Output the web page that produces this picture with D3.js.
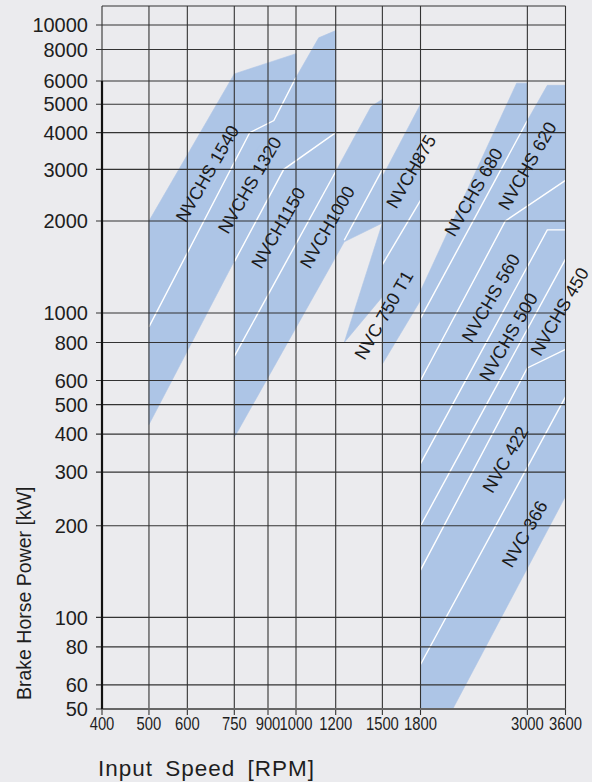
<!DOCTYPE html>
<html>
<head>
<meta charset="utf-8">
<script src="https://cdn.jsdelivr.net/npm/d3@7"></script>
<style>
body{margin:0;background:#ebebee;}
svg{display:block;font-family:"Liberation Sans",Arial,Helvetica,sans-serif;}
</style>
</head>
<body>
<svg></svg>
<script>
// tick values
var xTicks = [400,500,600,750,900,1000,1200,1500,1800,3000,3600];
var yTicks = [50,60,80,100,200,300,400,500,600,800,1000,2000,3000,4000,5000,6000,8000,10000];

// blue ranges, points are [rpm, kW]
var areaA = [[500,430],[500,2000],[750,6400],[1000,7700],[1000,3700]];
var areaB = [[750,390],[750,2500],[1000,6200],[1110,8900],[1200,9500],[1200,2950],[1420,4900],[1500,5200],[1500,1970],[1250,1710]];
var areaC = [[1250,800],[1500,1970],[1500,1130]];
var areaD = [[1500,2830],[1800,5000],[1800,1100],[1500,680]];
var areaE = [[1800,50],[1800,1180],[2850,5900],[3000,5900],[3000,4400],[3300,5800],[3600,5800],[3600,250],[2100,50]];

// white borders between models
var sep1 = [[500,900],[815,4000],[920,4400],[1000,6200]];
var sep2 = [[750,1470],[955,3000],[1200,4000]];
var sep3 = [[750,720],[1200,2950]];
var sep4 = [[1250,1730],[1500,3000]];
var sep5 = [[1500,1440],[1800,2350]];
var sep6 = [[1800,960],[3000,4400]];
var sep7 = [[1800,600],[2700,2000],[3600,2750]];
var sep8 = [[1800,320],[3300,1870],[3600,1870]];
var sep9 = [[1800,200],[3600,1500]];
var sep10 = [[1800,143],[3000,660],[3600,760]];
var sep11 = [[1800,70],[3600,530]];

// model names and where they sit
var labelNames = ["NVCHS 1540","NVCHS 1320","NVCH1150","NVCH1000","NVCH875","NVC 750 T1","NVCHS 680","NVCHS 620","NVCHS 560","NVCHS 500","NVCHS 450","NVC 422","NVC 366"];
var labelRpm = [660,815,935,1155,1720,1510,2320,3000,2520,2740,3500,2700,2960];
var labelKw = [2900,2650,1900,1910,2950,985,2510,3080,1120,834,1010,330,188];

window.onload = function(){
    var svg = d3.select("svg")
        .attr("width", 592)
        .attr("height", 782);

    // the printed grid is not quite even, so both scales are piecewise log
    var x = d3.scaleLog().domain([400,750,900,1000,1200,3600]).range([102,234.3,268,296,335.7,565.5]);
    var y = d3.scaleLog().domain([50,1000,2000,6000,10000]).range([709,313,221,81,25]);

    var top = 6, bottom = 709;

    var line = d3.line()
        .x(function(d){ return x(d[0]); })
        .y(function(d){ return y(d[1]); });

    // blue areas
    svg.selectAll("path.area")
        .data([areaA, areaB, areaC, areaD, areaE]).enter()
        .append("path")
        .attr("class", "area")
        .attr("d", function(d){ return line(d) + "Z"; })
        .attr("fill", "#adc5e6")
        .attr("stroke", "#adc5e6")
        .attr("stroke-width", 0.6);

    // white lines
    svg.selectAll("path.sep")
        .data([sep1, sep2, sep3, sep4, sep5, sep6, sep7, sep8, sep9, sep10, sep11]).enter()
        .append("path")
        .attr("class", "sep")
        .attr("d", line)
        .attr("fill", "none")
        .attr("stroke", "#ffffff")
        .attr("stroke-width", 1.4);

    // grid
    svg.selectAll("line.hgrid")
        .data(yTicks).enter()
        .append("line")
        .attr("class", "hgrid")
        .attr("x1", 96).attr("x2", x(3600))
        .attr("y1", function(d){ return y(d); })
        .attr("y2", function(d){ return y(d); })
        .attr("stroke", "#333")
        .attr("stroke-width", 1.1);

    svg.selectAll("line.vgrid")
        .data(xTicks).enter()
        .append("line")
        .attr("class", "vgrid")
        .attr("x1", function(d){ return x(d); })
        .attr("x2", function(d){ return x(d); })
        .attr("y1", top).attr("y2", bottom + 6)
        .attr("stroke", "#333")
        .attr("stroke-width", 1.1);

    svg.append("line")                                          // top border
        .attr("x1", x(400)).attr("x2", x(3600))
        .attr("y1", top).attr("y2", top)
        .attr("stroke", "#333").attr("stroke-width", 1.1);

    svg.append("line")                                          // bottom axis
        .attr("x1", x(400)).attr("x2", x(3600))
        .attr("y1", bottom).attr("y2", bottom)
        .attr("stroke", "#666").attr("stroke-width", 2);

    svg.append("line")                                          // left axis, heavy from 6000 down
        .attr("x1", x(400)).attr("x2", x(400))
        .attr("y1", y(6000)).attr("y2", bottom)
        .attr("stroke", "#111").attr("stroke-width", 2.2);

    // tick labels
    svg.selectAll("text.ylab")
        .data(yTicks).enter()
        .append("text")
        .attr("class", "ylab")
        .attr("x", 88)
        .attr("y", function(d){ return y(d); })
        .attr("dy", "0.36em")
        .attr("text-anchor", "end")
        .attr("font-size", 20)
        .attr("fill", "#1e1e1e")
        .text(function(d){ return d; });

    svg.selectAll("text.xlab")
        .data(xTicks).enter()
        .append("text")
        .attr("class", "xlab")
        .attr("transform", function(d){ return "translate(" + x(d) + ",730) scale(0.8,1)"; })   // narrow like the original
        .attr("text-anchor", "middle")
        .attr("font-size", 18.5)
        .attr("fill", "#1e1e1e")
        .text(function(d){ return d; });

    // axis titles
    svg.append("text")
        .attr("x", 98).attr("y", 776)
        .attr("font-size", 22.5)
        .attr("letter-spacing", 1)
        .attr("word-spacing", 5)
        .attr("fill", "#1e1e1e")
        .text("Input Speed [RPM]");

    svg.append("text")
        .attr("transform", "translate(31,700) rotate(-90)")
        .attr("font-size", 19.5)
        .attr("fill", "#1e1e1e")
        .text("Brake Horse Power [kW]");

    // model labels
    svg.selectAll("text.model")
        .data(labelNames).enter()
        .append("text")
        .attr("class", "model")
        .attr("transform", function(d, i){
            return "translate(" + x(labelRpm[i]) + "," + y(labelKw[i]) + ") rotate(-60)";
        })
        .attr("text-anchor", "middle")
        .attr("dy", "0.35em")
        .attr("font-size", 18)
        .attr("fill", "#1a1a1a")
        .text(function(d){ return d; });
}
</script>
</body>
</html>
